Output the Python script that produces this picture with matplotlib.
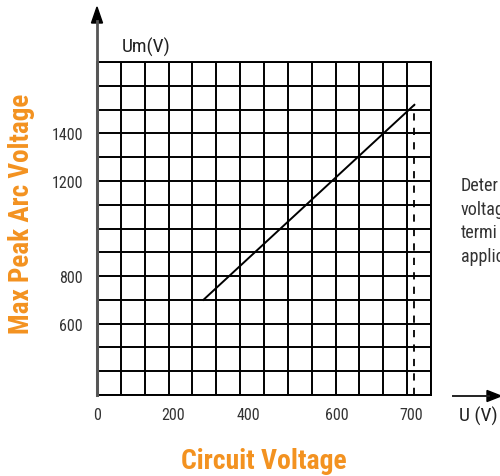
import numpy as np
import matplotlib
matplotlib.use("Agg")
import matplotlib.pyplot as plt
from matplotlib import font_manager

# ---- data ----
x_ticks = [0, 200, 400, 600, 700]
x_tick_labels = ["0", "200", "400", "600", "700"]
y_ticks = [600, 800, 1200, 1400]
y_tick_labels = ["600", "800", "1200", "1400"]
line_u = [280, 705]
line_um = [700, 1520]
limit_u = [705, 705]
limit_um = [300, 1520]
note_lines = ["Deter", "voltag", "termi", "applic"]

# the original drawing places its x labels non-uniformly on the grid
scale_volts = [0, 200, 400, 600, 700, 728]
scale_cells = [0, 3.2, 6.35, 10.05, 13.15, 14]


def fwd(v):
    return np.interp(v, scale_volts, scale_cells)


def inv(c):
    return np.interp(c, scale_cells, scale_volts)


names = {f.name for f in font_manager.fontManager.ttflist}
narrow_fam = None
for cand in ["Liberation Sans Narrow", "Roboto Condensed", "Open Sans Condensed",
             "Arial Narrow"]:
    if cand in names:
        narrow_fam = cand
        break
if narrow_fam is None:
    narrow_fam = "DejaVu Sans"
font_kw = dict(family=[narrow_fam, "DejaVu Sans"], stretch="condensed")

W, H = 500, 477
fig = plt.figure(figsize=(W / 100, H / 100), dpi=100)
orange = "#F39220"

ax = fig.add_axes([97 / W, 1 - 396 / H, (431 - 97) / W, (396 - 63) / H])
ax.set_xscale("function", functions=(fwd, inv))
ax.set_xlim(scale_volts[0], scale_volts[-1])
ax.set_ylim(300, 1700)

# square grid of the drawing
grid_x = inv(np.arange(15))
grid_y = np.arange(300, 1701, 100)
ax.vlines(grid_x, 300, 1700, color="black", lw=1.4, zorder=1)
ax.hlines(grid_y, scale_volts[0], scale_volts[-1], color="black", lw=1.4, zorder=1)

ax.set_xticks(x_ticks)
ax.set_xticklabels(x_tick_labels)
ax.set_yticks(y_ticks)
ax.set_yticklabels(y_tick_labels)
ax.minorticks_off()
ax.tick_params(which="both", length=0)
ax.tick_params(axis="x", pad=9)
ax.tick_params(axis="y", pad=10)
for lab in ax.get_xticklabels() + ax.get_yticklabels():
    lab.set_family(font_kw["family"])
    lab.set_stretch("condensed")
    lab.set_fontsize(11.5)
    lab.set_color("#333333")

for s in ["top", "right", "bottom"]:
    ax.spines[s].set_color("black")
    ax.spines[s].set_linewidth(1.4)
ax.spines["left"].set_color("#777777")
ax.spines["left"].set_linewidth(2.2)
ax.spines["left"].set_zorder(3)

ax.plot(line_u, line_um, color="black", lw=1.4, zorder=2)
ax.plot(limit_u, limit_um, color="black", lw=1.3, ls=(0, (4, 4)), zorder=2)

# axis arrows
fig.add_artist(matplotlib.lines.Line2D([97 / W, 97 / W], [1 - 396 / H, 1 - 22 / H],
                                       color="#555555", lw=2.0))
fig.patches.append(matplotlib.patches.Polygon(
    [[91.5 / W, 1 - 24 / H], [102.5 / W, 1 - 24 / H], [97 / W, 1 - 8 / H]],
    closed=True, transform=fig.transFigure, color="black"))
fig.add_artist(matplotlib.lines.Line2D([453 / W, 489 / W], [1 - 397 / H, 1 - 397 / H],
                                       color="#222222", lw=1.4))
fig.patches.append(matplotlib.patches.Polygon(
    [[487 / W, 1 - 391.5 / H], [487 / W, 1 - 402.5 / H], [501 / W, 1 - 397 / H]],
    closed=True, transform=fig.transFigure, color="black"))

fig.text(146 / W, 1 - 47 / H, "Um(V)", fontsize=14,
         color="#222222", ha="center", va="center", **font_kw)
fig.text(459 / W, 1 - 416 / H, "U (V)", fontsize=14,
         color="#222222", ha="left", va="center", **font_kw)

for i, t in enumerate(note_lines):
    fig.text(461 / W, 1 - (186 + 23.7 * i) / H, t, fontsize=13,
             color="#333333", ha="left", va="center", **font_kw)

fig.text(22 / W, 1 - 214 / H, "Max Peak Arc Voltage",
         fontweight="bold", fontsize=19.5, color=orange, rotation=90,
         ha="center", va="center", **font_kw)
fig.text(264 / W, 1 - 462 / H, "Circuit Voltage",
         fontweight="bold", fontsize=20, color=orange,
         ha="center", va="center", **font_kw)

fig.savefig("out.png", dpi=100)
